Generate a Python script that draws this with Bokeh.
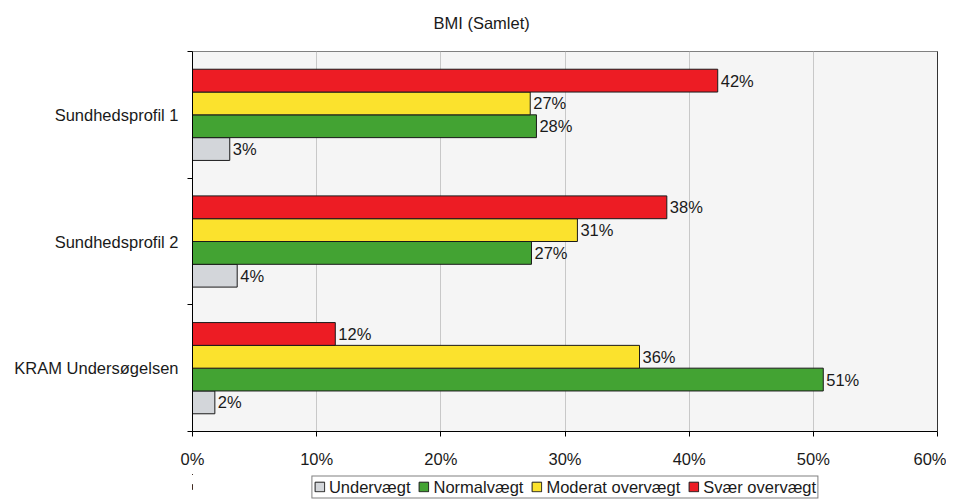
from bokeh.plotting import figure
from bokeh.layouts import column
from bokeh.models import (Range1d, ColumnDataSource, Legend, LegendItem,
                          LinearAxis, FixedTicker, PrintfTickFormatter)
from bokeh.transform import dodge
from bokeh.embed import file_html
from bokeh.resources import INLINE
from bokeh.core.properties import value

# ---- data ----
categories = ["Sundhedsprofil 1", "Sundhedsprofil 2", "KRAM Undersøgelsen"]
series_names = ["Undervægt", "Normalvægt", "Moderat overvægt", "Svær overvægt"]
undervaegt = [3.0, 3.6, 1.8]
normalvaegt = [27.7, 27.3, 50.8]
moderat_overvaegt = [27.2, 31.0, 36.0]
svaer_overvaegt = [42.3, 38.2, 11.5]
x_ticks = [0, 10, 20, 30, 40, 50, 60]
title_text = "BMI (Samlet)"

# ---- style ----
colors = ["#d3d6da", "#43a333", "#fbe22d", "#ed1c24"]
offsets = [-0.27, -0.09, 0.09, 0.27]
FONT = "Liberation Sans"
FS = "16.5px"

n = len(categories)
# category slots, first category on top
cat_pos = [n - 1 - i + 0.5 for i in range(n)]
boundaries = list(range(n + 1))


def strip(height):
    f = figure(width=946, height=height, x_range=Range1d(1000, 1001), y_range=Range1d(0, 1),
               output_backend="svg", toolbar_location=None,
               x_axis_location=None, y_axis_location=None,
               min_border_left=192, min_border_right=9,
               min_border_top=0, min_border_bottom=0)
    f.grid.visible = False
    f.outline_line_color = None
    f.background_fill_color = "white"
    f.border_fill_color = "white"
    return f


# ---- title strip ----
tp = strip(50)
tp.title.text = title_text
tp.title.align = "left"
tp.title.offset = 241
tp.title.standoff = 22
tp.title.text_font = FONT
tp.title.text_font_size = FS
tp.title.text_font_style = "normal"
tp.title.text_color = "#1a1a1a"

# ---- main chart ----
p = figure(width=946, height=424,
           x_range=Range1d(x_ticks[0], x_ticks[-1]),
           y_range=Range1d(0, n),
           output_backend="svg", toolbar_location=None,
           min_border_left=192, min_border_right=9,
           min_border_top=1, min_border_bottom=43)

p.background_fill_color = "#f5f5f5"
p.border_fill_color = "white"
p.outline_line_color = "#808080"
p.outline_line_width = 1

xa = p.xaxis[0]
xa.ticker = FixedTicker(ticks=x_ticks)
xa.formatter = PrintfTickFormatter(format="%d%%")
xa.major_tick_out = 5
xa.major_tick_in = 0
xa.minor_tick_line_color = None
xa.axis_line_color = "black"
xa.major_tick_line_color = "black"
xa.major_label_standoff = 13
xa.major_label_text_font = FONT
xa.major_label_text_font_size = FS
xa.major_label_text_color = "#1a1a1a"

p.xgrid.ticker = FixedTicker(ticks=x_ticks)
p.xgrid.grid_line_color = "#c8c8c8"
p.xgrid.grid_line_width = 1
p.ygrid.visible = False

# y axis: labels at category centres, ticks at band boundaries
ya = p.yaxis[0]
ya.ticker = FixedTicker(ticks=cat_pos, minor_ticks=boundaries)
ya.major_label_overrides = {pos: name for pos, name in zip(cat_pos, categories)}
ya.major_tick_out = 0
ya.major_tick_in = 0
ya.major_tick_line_color = None
ya.minor_tick_out = 5
ya.minor_tick_in = 0
ya.minor_tick_line_color = "black"
ya.axis_line_color = "black"
ya.major_label_standoff = 9
ya.major_label_text_font = FONT
ya.major_label_text_font_size = FS
ya.major_label_text_color = "#1a1a1a"

right_axis = LinearAxis(ticker=FixedTicker(ticks=[]),
                        major_label_text_font_size="0px",
                        major_tick_line_color=None, minor_tick_line_color=None,
                        axis_line_color="#333333")
p.add_layout(right_axis, "right")

# ---- legend strip ----
lp = strip(25)

all_series = [undervaegt, normalvaegt, moderat_overvaegt, svaer_overvaegt]
items = []
for name, vals, color, off in zip(series_names, all_series, colors, offsets):
    src = ColumnDataSource(dict(pos=cat_pos, val=vals,
                                lbl=[f"{round(v)}%" for v in vals]))
    p.hbar(y=dodge("pos", off), left=0, right="val",
           height=0.18, fill_color=color, line_color="#1a1a1a",
           line_width=1, source=src)
    p.text(x="val", y=dodge("pos", off), text="lbl",
           x_offset=3, text_baseline="middle", text_align="left",
           text_font=value(FONT), text_font_size=FS, text_color="#1a1a1a",
           source=src)
    # swatch renderer for the legend strip (its bars lie outside the strip's view)
    r = lp.hbar(y="pos", left=0, right="val", height=0.18, fill_color=color,
                line_color="#1a1a1a", line_width=1, source=src)
    items.append(LegendItem(label=name, renderers=[r]))

legend = Legend(items=items, orientation="horizontal", location="center",
                glyph_width=12, glyph_height=12, label_standoff=4, spacing=7,
                padding=1, margin=0, label_height=12,
                border_line_color="black", border_line_width=1,
                background_fill_color="white", background_fill_alpha=1,
                label_text_font=FONT, label_text_font_size=FS,
                label_text_color="#1a1a1a")
lp.add_layout(legend, "center")

layout = column(tp, p, lp, spacing=0)
open("out.html", "w").write(file_html(layout, INLINE))
